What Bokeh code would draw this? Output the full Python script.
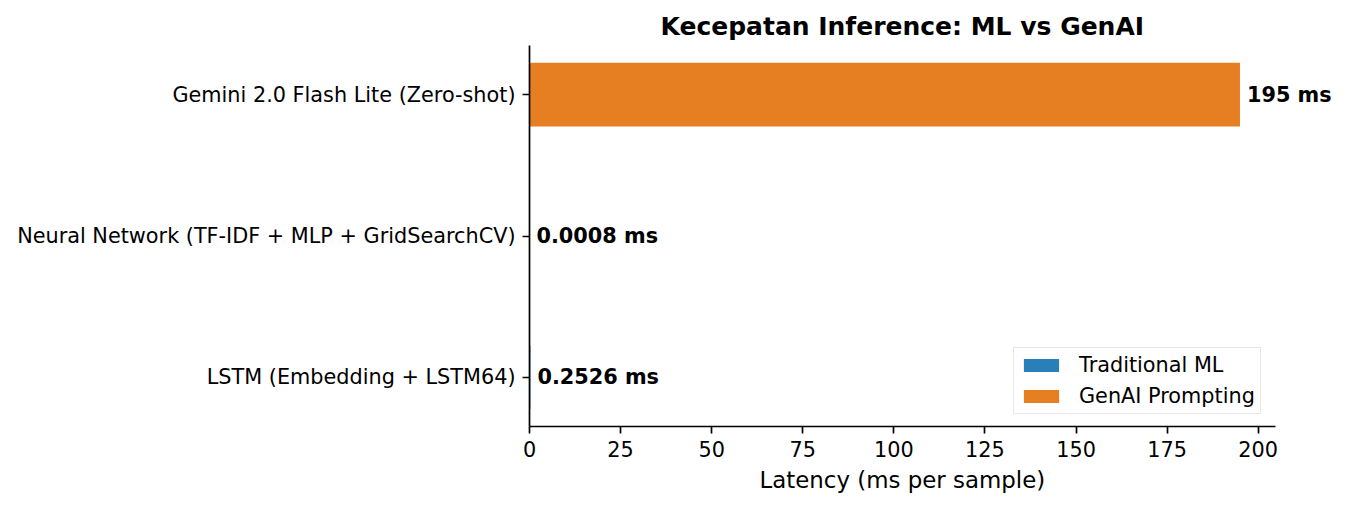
from bokeh.plotting import figure
from bokeh.models import ColumnDataSource, Range1d, FixedTicker, LabelSet, Title
from bokeh.embed import file_html
from bokeh.resources import INLINE
from bokeh.core.properties import value

# ---- data ----
models = [
    "LSTM (Embedding + LSTM64)",
    "Neural Network (TF-IDF + MLP + GridSearchCV)",
    "Gemini 2.0 Flash Lite (Zero-shot)",
]
latency_ms = [0.2526, 0.0008, 195.0]
model_type = ["Traditional ML", "Traditional ML", "GenAI Prompting"]
type_colors = {"Traditional ML": "#2980b9", "GenAI Prompting": "#e67e22"}
x_ticks = [0, 25, 50, 75, 100, 125, 150, 175, 200]

FONT = "DejaVu Sans"

ypos = list(range(len(models)))
labels = [(f"{v:.4f} ms" if v < 1 else f"{v:g} ms") for v in latency_ms]
src = ColumnDataSource(dict(
    y=ypos, x=latency_ms, model=models, type=model_type,
    color=[type_colors[t] for t in model_type], label=labels,
))

# layout (pixels)
W, H = 1347, 507
LEFT, RIGHT_AXIS, TOP, BOTTOM = 529, 1275, 45, 426
RIGHT_FRAME = W - 10

bar_h = 0.45
xmax = max(latency_ms) * 1.05
# extend frame to the right so the value labels are not clipped; axis is bounded to [0, xmax]
x_end = xmax * (RIGHT_FRAME - LEFT) / (RIGHT_AXIS - LEFT)
ylo, yhi = -bar_h / 2, len(models) - 1 + bar_h / 2
ypad = (yhi - ylo) * 0.05

p = figure(width=W, height=H, output_backend="svg", toolbar_location=None,
           x_range=Range1d(0, x_end), y_range=Range1d(ylo - ypad, yhi + ypad),
           min_border_left=LEFT, min_border_right=W - RIGHT_FRAME,
           min_border_top=TOP, min_border_bottom=H - BOTTOM)

p.hbar(y="y", right="x", left=0, height=bar_h, fill_color="color", line_color=None,
       source=src, legend_field="type")

ls = LabelSet(x="x", y="y", text="label", source=src, x_offset=7,
              text_font=value(FONT), text_font_style="bold", text_font_size="20.8px",
              text_baseline="middle", text_align="left", text_color="black")
p.add_layout(ls)

# title (centred over the original axes area)
p.title.text = "Kecepatan Inference: ML vs GenAI"
p.title.text_font = FONT
p.title.text_font_size = "25px"
p.title.text_font_style = "bold"
p.title.align = "left"
p.title.offset = 131
p.title.text_color = "black"
p.title.standoff = 10

# axes
p.xaxis.ticker = FixedTicker(ticks=x_ticks)
p.xaxis.bounds = (0, xmax)
p.yaxis.ticker = FixedTicker(ticks=ypos)
p.yaxis.major_label_overrides = {i: m for i, m in enumerate(models)}
for ax in (p.xaxis, p.yaxis):
    ax.axis_line_color = "black"
    ax.axis_line_width = 1.7
    ax.major_tick_line_color = "black"
    ax.major_tick_line_width = 1.7
    ax.major_tick_out = 7
    ax.major_tick_in = 0
    ax.minor_tick_line_color = None
    ax.major_label_text_font = FONT
    ax.major_label_text_font_size = "20.8px"
    ax.major_label_text_color = "black"
    ax.major_label_standoff = 7

# x-axis label, centred under the bounded axis
xlabel = Title(text="Latency (ms per sample)", align="left", offset=230,
               text_font=FONT, text_font_size="22.9px", text_font_style="normal",
               text_color="black", standoff=10)
p.add_layout(xlabel, "below")

p.xgrid.grid_line_color = None
p.ygrid.grid_line_color = None
p.outline_line_color = None
p.background_fill_color = "white"
p.border_fill_color = "white"

# legend
lg = p.legend[0]
lg.location = (1013 - LEFT, 12)
lg.padding = 5
lg.spacing = 7
lg.label_height = 22
lg.glyph_height = 16
lg.glyph_width = 44
lg.label_standoff = 16
lg.label_text_font = FONT
lg.label_text_font_size = "20.8px"
lg.label_text_color = "black"
lg.border_line_color = "#d0d0d0"
lg.border_line_width = 1.5
lg.background_fill_alpha = 0.8

open("out.html", "w").write(file_html(p, INLINE))
